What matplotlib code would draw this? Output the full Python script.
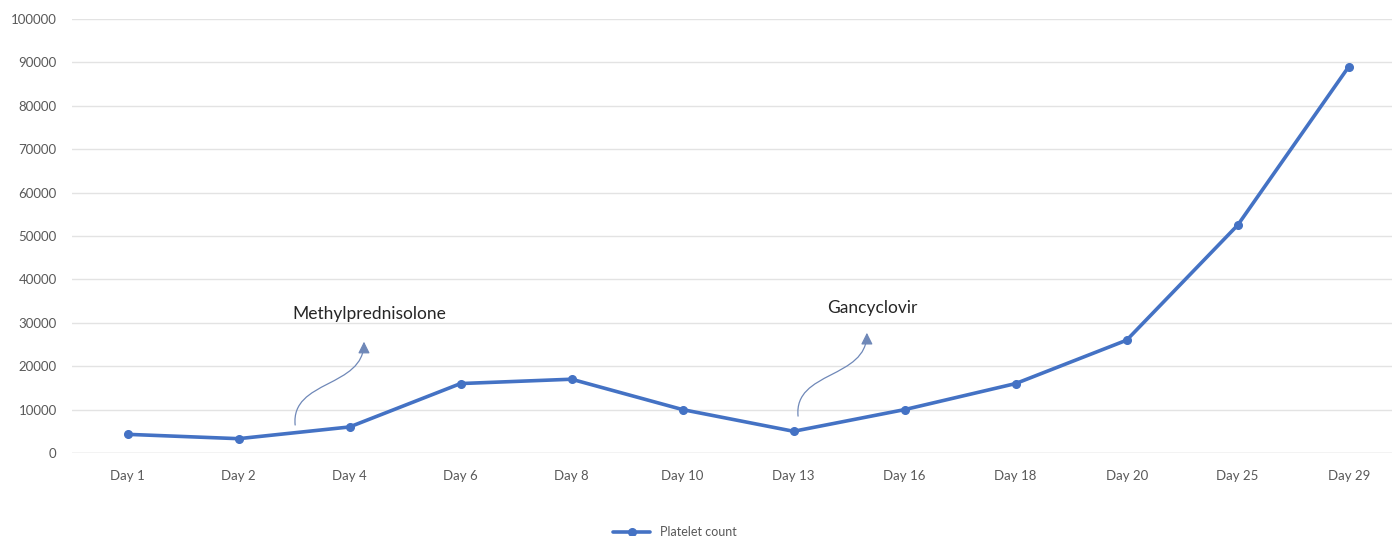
#!/usr/bin/env python3
import matplotlib
matplotlib.use("Agg")
import matplotlib.pyplot as plt
from matplotlib.path import Path
from matplotlib.patches import FancyArrowPatch

days = ["Day 1", "Day 2", "Day 4", "Day 6", "Day 8", "Day 10",
        "Day 13", "Day 16", "Day 18", "Day 20", "Day 25", "Day 29"]
platelets = [4300, 3300, 6000, 16000, 17000, 10000,
             5000, 10000, 16000, 26000, 52500, 89000]
y_ticks = list(range(0, 100001, 10000))

# drug start annotations: label and x of the arrow tail
drugs = ["Methylprednisolone", "Gancyclovir"]
drug_x = [1.51, 6.04]

BLUE = "#4472C4"
GRID = "#e3e3e3"
TICK = "#595959"

plt.rcParams["font.family"] = ["Lato", "DejaVu Sans"]

fig = plt.figure(figsize=(13.92, 5.36), dpi=100)
ax = fig.add_axes([72 / 1392, 83 / 536, 1320 / 1392, 434 / 536])

x = list(range(len(days)))
ax.plot(x, platelets, color=BLUE, lw=2.6, marker="o", ms=5.5,
        label="Platelet count", solid_capstyle="round")

ax.set_xlim(-0.5, 11.39)
ax.set_ylim(0, 100000)
ax.set_xticks(x)
ax.set_xticklabels(days)
ax.set_yticks(y_ticks)
ax.set_yticklabels([str(v) for v in y_ticks])
ax.tick_params(axis="both", length=0, labelsize=9.5, colors=TICK)
ax.tick_params(axis="x", pad=12)
ax.tick_params(axis="y", pad=11)
ax.grid(axis="y", color=GRID, lw=1)
ax.set_axisbelow(True)
for s in ax.spines.values():
    s.set_visible(False)
ax.axhline(0, color="#d9d9d9", lw=1, zorder=0)

# curved arrows with labels
for name, x0 in zip(drugs, drug_x):
    first = x0 < 3
    y0 = 6450 if first else 8500
    x1 = x0 + 0.62
    y1 = y0 + 19200
    verts = [(x0, y0), (x0 - 0.04, y0 + 10500),
             (x1, y0 + 8500), (x1, y1)]
    codes = [Path.MOVETO, Path.CURVE4, Path.CURVE4, Path.CURVE4]
    arr = FancyArrowPatch(path=Path(verts, codes),
                          arrowstyle="-|>,head_length=7,head_width=3.5",
                          color="#6f88b8", lw=0.9, mutation_scale=1,
                          shrinkA=0, shrinkB=0)
    ax.add_patch(arr)
    ax.text(x1 + 0.05, y1 + (6300 if first else 5600), name,
            ha="center", va="center", fontsize=12.5, color="#262626")

leg = fig.legend(loc="lower center", bbox_to_anchor=(0.485, -0.025), frameon=False,
                 fontsize=9, handlelength=3)
for t in leg.get_texts():
    t.set_color(TICK)

fig.savefig("out.png", dpi=100, facecolor="white")
